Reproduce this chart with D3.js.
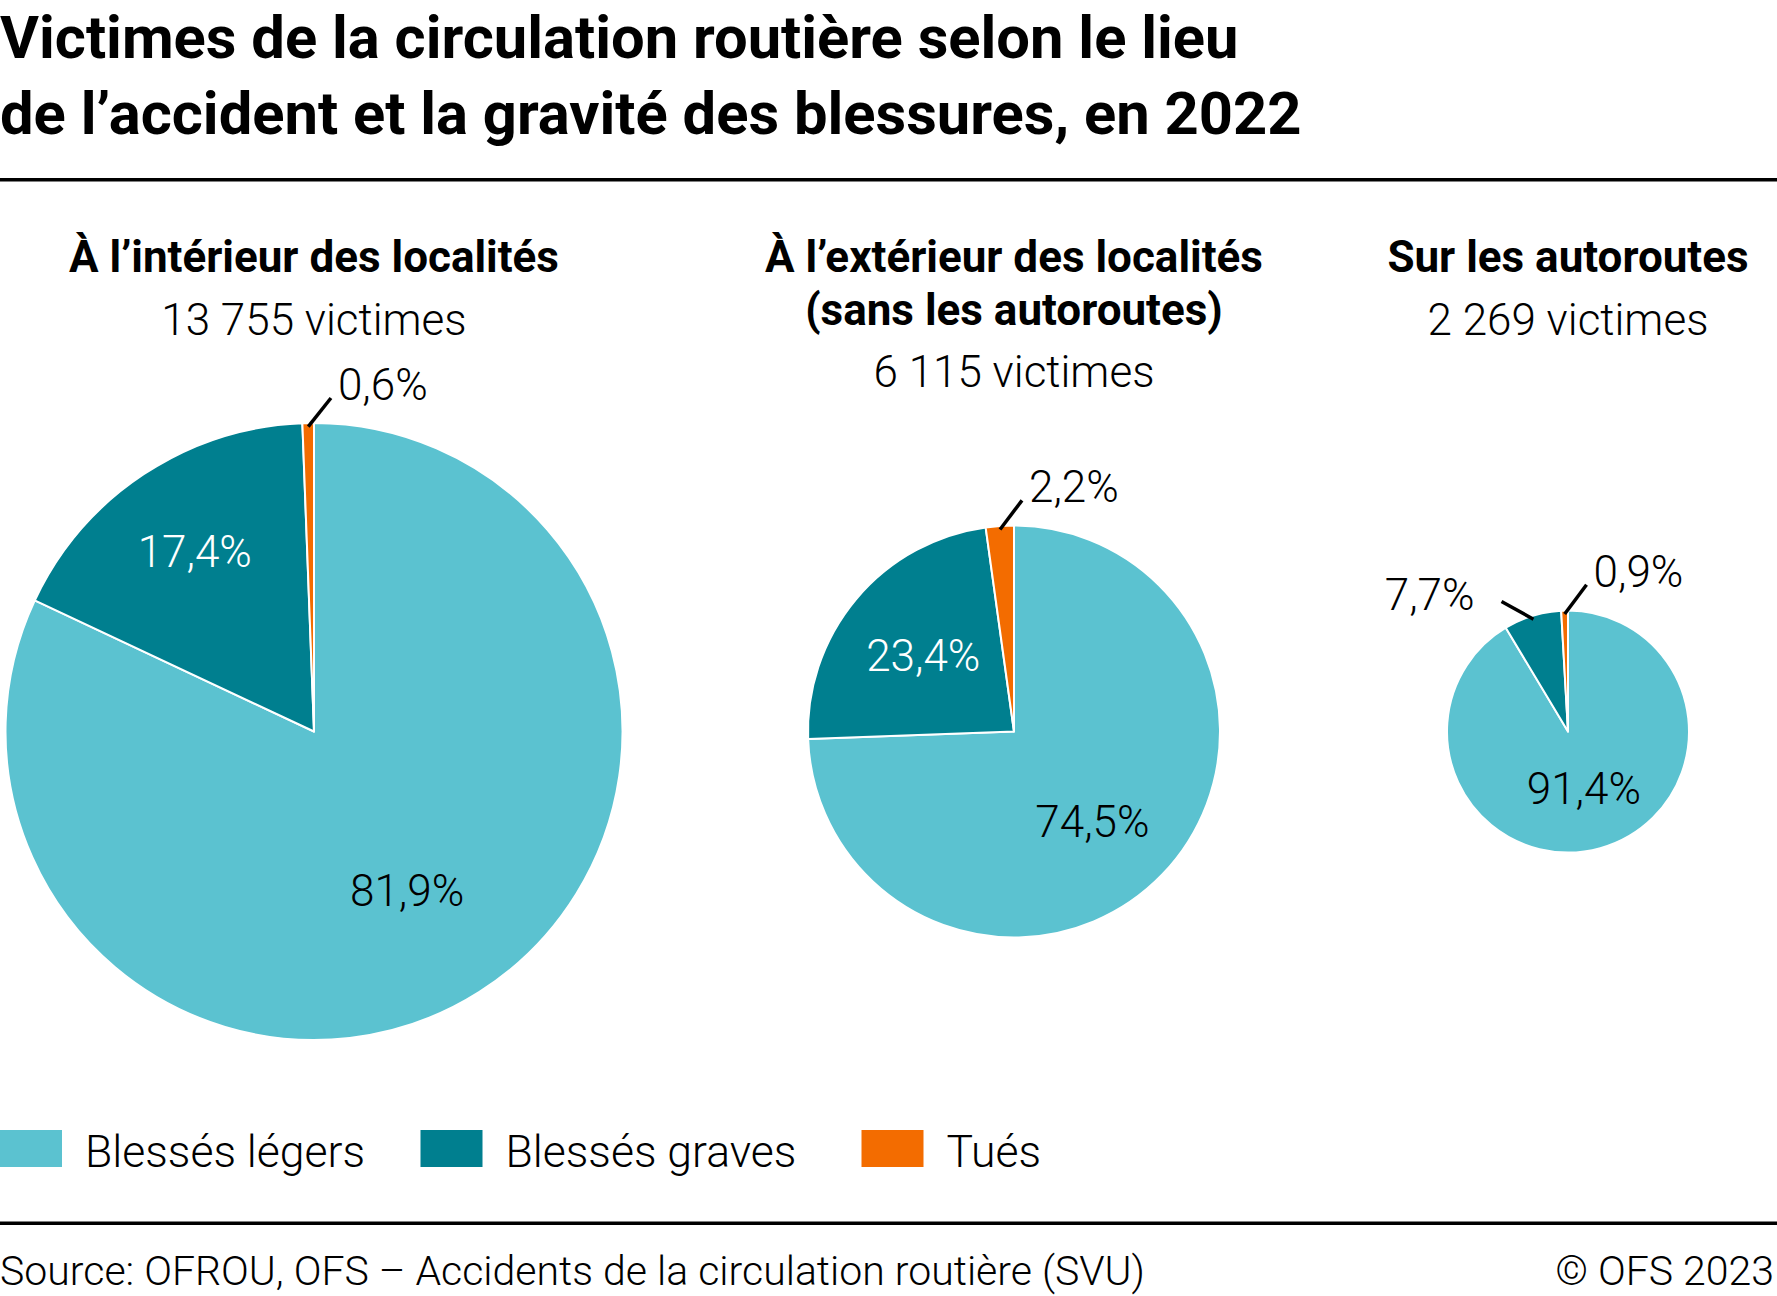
<!DOCTYPE html>
<html><head><meta charset="utf-8">
<script src="https://cdn.jsdelivr.net/npm/d3@7/dist/d3.min.js"></script>
<style>
html,body{margin:0;padding:0;background:#fff;}
text{font-family:Roboto,"Noto Sans",sans-serif;fill:#000;}
</style></head>
<body>
<svg id="chart"></svg>
<script>
// ---------- data ----------
const titleLines = ["Victimes de la circulation routière selon le lieu", "de l’accident et la gravité des blessures, en 2022"];
const categories = ["Blessés légers", "Blessés graves", "Tués"];
const locations = [["À l’intérieur des localités"], ["À l’extérieur des localités", "(sans les autoroutes)"], ["Sur les autoroutes"]];
const victims = [13755, 6115, 2269];
const blessesLegers = [81.9, 74.5, 91.4];
const blessesGraves = [17.4, 23.4, 7.7];
const tues = [0.6, 2.2, 0.9];
const sourceText = "Source: OFROU, OFS – Accidents de la circulation routière (SVU)";
const copyrightText = "© OFS 2023";

// ---------- layout / style ----------
const W = 1777, H = 1296;
const colors = ["#5bc2d0", "#007f8f", "#f36c00"];
const labelColors = ["#000", "#fff", "#000"];
// inner: [radius fraction, angle shift in degrees] per slice
const layout = [
  {cx: 314,  r: 308.5, inner: [[0.596, 2], [0.70, 0], null], leader: [null, null, 38.5]},
  {cx: 1014, r: 206,   inner: [[0.58, 5], [0.575, 0], null], leader: [null, null, 37]},
  {cx: 1568, r: 121,   inner: [[0.49, 0], null, null], leader: [null, -61, 36.8]}
];
const legendX = [0, 420.5, 861.5];
const cy = 731.5;
const leaderLen = 36.5;
const pctSize = 44;

const locale = d3.formatLocale({decimal: ",", thousands: " ", grouping: [3], currency: ["", ""]});
const fmtInt = locale.format(",d");
const fmtPct = locale.format(".1f");

const svg = d3.select("#chart").attr("width", W).attr("height", H);
svg.append("rect").attr("width", W).attr("height", H).attr("fill", "#fff");

// title
svg.append("g").selectAll("text").data(titleLines).join("text")
  .attr("x", 0).attr("y", (d, i) => 57.6 + i * 76.4)
  .attr("font-size", 59.7).attr("font-weight", 700)
  .text(d => d);
svg.append("rect").attr("x", 0).attr("y", 178).attr("width", W).attr("height", 3.5).attr("fill", "#000");

const pieGen = d3.pie().sort(null).value(d => d.value);

locations.forEach((loc, i) => {
  const L = layout[i];
  const g = svg.append("g");
  loc.forEach((line, j) => {
    g.append("text").attr("x", L.cx).attr("y", 271.5 + j * 53.5)
      .attr("text-anchor", "middle").attr("font-size", 44).attr("font-weight", 700)
      .text(line);
  });
  g.append("text").attr("x", L.cx).attr("y", 334.5 + (loc.length - 1) * 52.5)
    .attr("text-anchor", "middle").attr("font-size", 44).attr("font-weight", 300)
    .text(fmtInt(victims[i]) + " victimes");

  const vals = [blessesLegers[i], blessesGraves[i], tues[i]].map((v, k) => ({cat: k, value: v}));
  const arcs = pieGen(vals);
  const arc = d3.arc().innerRadius(0).outerRadius(L.r);
  const pg = g.append("g").attr("transform", `translate(${L.cx},${cy})`);
  pg.selectAll("path").data(arcs).join("path")
    .attr("d", arc).attr("fill", d => colors[d.data.cat])
    .attr("stroke", "#fff").attr("stroke-width", 2).attr("stroke-linejoin", "round");

  arcs.forEach(a => {
    const k = a.data.cat;
    const mid = (a.startAngle + a.endAngle) / 2;
    const label = fmtPct(a.data.value) + "%";
    if (L.inner[k] != null) {
      const rr = L.r * L.inner[k][0];
      const am = mid + L.inner[k][1] * Math.PI / 180;
      pg.append("text")
        .attr("x", rr * Math.sin(am)).attr("y", -rr * Math.cos(am) + 15.5)
        .attr("text-anchor", "middle").attr("font-size", pctSize).attr("font-weight", 300)
        .style("fill", labelColors[k])
        .text(label);
    } else if (L.leader[k] != null) {
      const rs = L.r - 3.5;
      const x0 = rs * Math.sin(mid), y0 = -rs * Math.cos(mid);
      const ang = L.leader[k] * Math.PI / 180;
      const x1 = x0 + leaderLen * Math.sin(ang), y1 = y0 - leaderLen * Math.cos(ang);
      pg.append("line").attr("x1", x0).attr("y1", y0).attr("x2", x1).attr("y2", y1)
        .attr("stroke", "#000").attr("stroke-width", 3.5);
      const right = L.leader[k] > 0;
      pg.append("text")
        .attr("x", right ? x1 + 7 : x1 - 27)
        .attr("y", right ? y1 + 2 : y1 + 8)
        .attr("text-anchor", right ? "start" : "end")
        .attr("font-size", pctSize).attr("font-weight", 300)
        .text(label);
    }
  });
});

// legend
const lg = svg.append("g");
categories.forEach((c, k) => {
  const lx = legendX[k];
  lg.append("rect").attr("x", lx).attr("y", 1130).attr("width", 62).attr("height", 37).attr("fill", colors[k]);
  lg.append("text").attr("x", lx + 85).attr("y", 1166.5)
    .attr("font-size", 44.5).attr("font-weight", 300).text(c);
});

svg.append("rect").attr("x", 0).attr("y", 1221.5).attr("width", W).attr("height", 3.5).attr("fill", "#000");
svg.append("text").attr("x", 0).attr("y", 1285).attr("font-size", 41).attr("font-weight", 300).text(sourceText);
svg.append("text").attr("x", 1774).attr("y", 1285).attr("text-anchor", "end").attr("font-size", 41).attr("font-weight", 300).text(copyrightText);
</script>
</body></html>
